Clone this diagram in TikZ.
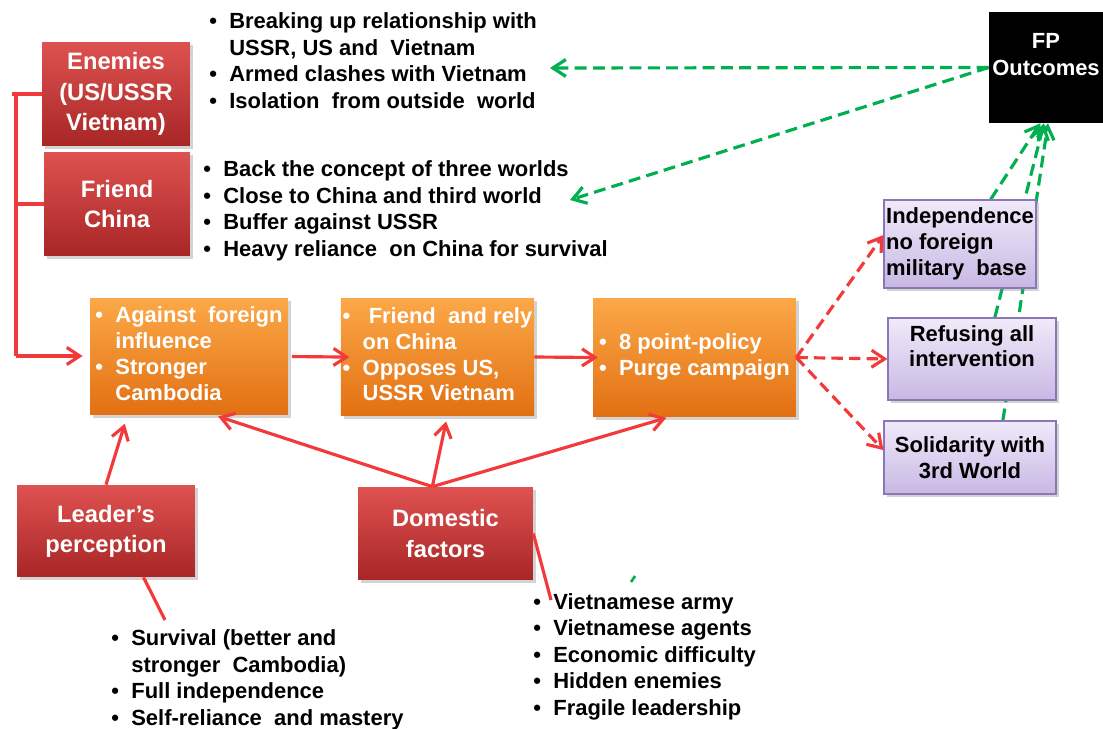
\documentclass[tikz,border=0pt]{standalone}
\usepackage{fontspec}
\setmainfont{Liberation Sans}
\usetikzlibrary{arrows.meta,shadows,calc,backgrounds}
\definecolor{redtop}{RGB}{222,82,80}
\definecolor{redbot}{RGB}{168,38,38}
\definecolor{ortop}{RGB}{252,168,72}
\definecolor{orbot}{RGB}{226,112,18}
\definecolor{putop}{RGB}{240,234,250}
\definecolor{pubot}{RGB}{200,184,228}
\definecolor{puline}{RGB}{140,118,182}
\definecolor{lred}{RGB}{242,58,58}
\definecolor{lgreen}{RGB}{0,176,80}
\newcommand{\plist}[1]{\begin{tabular}{@{}l@{\hspace{7pt}}l@{}}#1\end{tabular}}
\tikzset{
  shad/.style={drop shadow={shadow xshift=1.5pt,shadow yshift=-1.5pt,opacity=.35}},
  redbox/.style={shad,top color=redtop,bottom color=redbot,text=white,align=center,inner sep=1pt,
    font=\bfseries\fontsize{13.5}{17.2}\selectfont},
  orbox/.style={shad,top color=ortop,bottom color=orbot,text=white,inner sep=1pt,
    font=\bfseries\fontsize{12.5}{14.7}\selectfont},
  pubox/.style={shad,top color=putop,bottom color=pubot,draw=puline,line width=.7pt,align=center,inner sep=1pt,
    font=\bfseries\fontsize{12.5}{14.7}\selectfont},
  fpbox/.style={fill=black,text=white,align=center,inner sep=1pt,font=\bfseries\fontsize{12.5}{15}\selectfont},
  lst/.style={anchor=west,inner sep=0pt,font=\bfseries\fontsize{12.5}{15.1}\selectfont},
  tip/.style={-{Straight Barb[length=2.6mm,width=3.4mm]}},
  rline/.style={draw=lred,line width=1.8pt},
  rarr/.style={rline,tip},
  rdash/.style={rarr,dash pattern=on 6.5pt off 3.5pt},
  gline/.style={draw=lgreen,line width=1.8pt,dash pattern=on 6.8pt off 3.6pt},
  garr/.style={gline,tip}
}
\begin{document}
\begin{tikzpicture}[x=0.02cm,y=-0.02cm]
\useasboundingbox (0,0) rectangle (1103,729);

% boxes
\node[redbox,minimum width=2.96cm,minimum height=2.08cm] (enemies) at (116,94) {Enemies\\(US/USSR\\Vietnam)};
\node[redbox,minimum width=2.92cm,minimum height=2.08cm] (friend) at (117,204) {Friend\\China};
\node[redbox,minimum width=3.56cm,minimum height=1.84cm] (leader) at (106,531) {Leader's\\perception};
\node[redbox,minimum width=3.5cm,minimum height=1.86cm] (domestic) at (445.5,533.5) {Domestic\\factors};

\node[orbox,minimum width=3.96cm,minimum height=2.34cm] (polA) at (189,356.5)
  {\plist{\textbullet & Against\ \ foreign\\ & influence\\ \textbullet & Stronger\\ & Cambodia}};
\node[orbox,minimum width=3.74cm,minimum height=2.36cm] (polB) at (437.5,357)
  {\plist{\textbullet & \ Friend\ \ and rely\\ & on China\\ \textbullet & Opposes US,\\ & USSR Vietnam}};
\node[orbox,minimum width=4.06cm,minimum height=2.38cm] (polC) at (694.5,357.5)
  {\plist{\textbullet & 8 point-policy\\ \textbullet & Purge campaign}};

\node[pubox,align=left,minimum width=3.04cm,minimum height=1.76cm] (indep) at (960,244) {Independence\\no foreign\\military\ \ base};
\node[pubox,minimum width=3.36cm,minimum height=1.64cm] (refuse) at (972,359) {Refusing all\\intervention\\\mbox{}};
\node[pubox,minimum width=3.44cm,minimum height=1.46cm] (solid) at (970,457.5) {Solidarity with\\3rd World};
\node[fpbox,minimum width=2.28cm,minimum height=2.22cm] (fp) at (1046,67.5) {FP\\Outcomes\\\mbox{}};

% lists
\node[lst] (enlist) at (209,63) {\plist{\textbullet & Breaking up relationship with\\ & USSR, US and\ \ Vietnam\\
  \textbullet & Armed clashes with Vietnam\\ \textbullet & Isolation\ \ from outside\ \ world}};
\node[lst] (frlist) at (203,211) {\plist{\textbullet & Back the concept of three worlds\\ \textbullet & Close to China and third world\\
  \textbullet & Buffer against USSR\\ \textbullet & Heavy reliance\ \ on China for survival}};
\node[lst] (ldlist) at (111,680) {\plist{\textbullet & Survival (better and\\ & stronger\ \ Cambodia)\\
  \textbullet & Full independence\\ \textbullet & Self-reliance\ \ and mastery}};
\node[lst] (dolist) at (533,657) {\plist{\textbullet & Vietnamese army\\ \textbullet & Vietnamese agents\\
  \textbullet & Economic difficulty\\ \textbullet & Hidden enemies\\ \textbullet & Fragile leadership}};

% bracket
\coordinate (brk) at (16,356);
\draw[rline] (enemies.west) -- ++(-30,0);
\draw[rline] (brk |- enemies.west) -- (brk);
\draw[rline] (friend.west) -- (brk |- friend.west);
\draw[rarr,shorten >=4pt] (brk) -- (brk -| polA.west);

% policy chain
\draw[rarr,shorten <=2pt,shorten >=-5pt] (polA.east) -- (polB.west);
\draw[rarr,shorten >=-3pt] (polB.east) -- (polC.west);
\draw[rdash] (polC.east) -- ($(indep.west)!.2!(indep.north west)$);
\draw[rdash] (polC.east) -- (refuse.west);
\draw[rdash] (polC.east) -- ($(solid.west)!.2!(solid.north west)$);

% factors
\draw[rarr,shorten >=5pt] (leader.north) -- ($(polA.south west)!.38!(polA.south)$);
\coordinate (dtop) at ($(domestic.north)!.15!(domestic.north west)$);
\draw[rarr,shorten >=2pt] (dtop) -- ($(polA.south)!.26!(polA.south east)$);
\draw[rarr,shorten >=3pt] (dtop) -- ($(polB.south)!.1!(polB.south east)$);
\draw[rarr,shorten >=1pt] (dtop) -- ($(polC.south)!.26!(polC.south west)$);
\coordinate (ltail) at (165,620);
\coordinate (dtail) at (551,600);
\draw[rline] ($(leader.south)!.42!(leader.south east)$) -- (ltail);
\draw[rline] (domestic.east) -- (dtail);

% outcomes
\coordinate (gA) at (550,68);
\coordinate (gB) at (570,200);
\draw[garr] (fp.west) -- (gA);
\draw[garr] (fp.west) -- (gB);
\begin{scope}[on background layer]
\draw[garr] ($(indep.north)!.4!(indep.north east)$) -- ($(fp.south)!.1!(fp.south west)$);
\draw[garr] ($(refuse.north)!.27!(refuse.north east)$) -- ($(fp.south)!.035!(fp.south west)$);
\draw[garr] ($(solid.north)!.38!(solid.north east)$) -- ($(fp.south)!.035!(fp.south east)$);
\end{scope}
\draw[lgreen,line width=1.5pt] (631,582) -- (635,576);

\end{tikzpicture}
\end{document}
